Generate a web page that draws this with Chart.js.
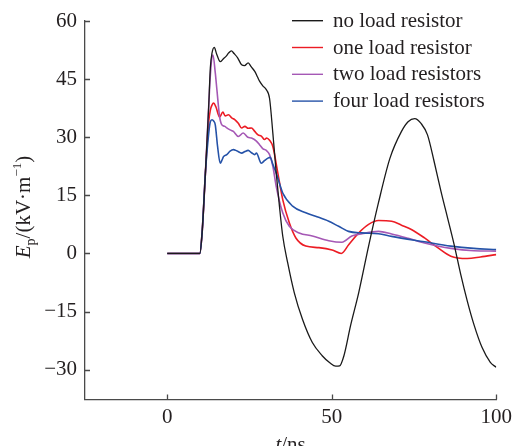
<!DOCTYPE html>
<html>
<head>
<meta charset="utf-8">
<script src="https://cdn.jsdelivr.net/npm/chart.js@4.4.1/dist/chart.umd.min.js"></script>
<style>
    html, body { margin: 0; padding: 0; background: #fff; }
    canvas { display: block; }
</style>
</head>
<body>
<canvas id="fieldChart" width="517" height="446"></canvas>
<script>
// series labels (legend order)
const seriesLabels = ['no load resistor', 'one load resistor', 'two load resistors', 'four load resistors'];

// no load resistor: time (ns) and field (kV/m)
const noLoadT = [0, 9.9, 10.6, 11.6, 12.6, 13.1, 13.6, 14.3, 15.0, 16.1, 17.0, 18.0, 18.6, 19.5, 20.3, 21.4, 22.6, 23.5, 24.6, 25.5,
    26.6, 27.4, 28.1, 29.1, 30.1, 31.1, 32.1, 33.1, 34.1, 35.1, 36.6, 38.6, 41.1, 44.1, 47.1, 49.5, 51.2, 52.4, 53.7, 55.7, 58.2,
    61.2, 64.2, 67.7, 71.2, 73.2, 75.2, 77.2, 79.1, 81.1, 83.2, 85.2, 87.2, 89.2, 91.2, 93.2, 95.7, 98.2, 100];
const noLoadE = [0, 0, 5.4, 20.8, 38, 48, 51.7, 53.2, 51.5, 49.5, 50.2, 51, 51.7, 52.3, 51.6, 50.5, 48.7, 48.5, 49.2, 48.2,
    47, 45.6, 44.4, 43.2, 42.3, 40, 31, 21, 12.2, 4.5, -2.4, -10.1, -17, -23, -26.4, -28.3, -29.1, -29, -26.4, -18.7, -10.1,
    1.9, 13.1, 24.6, 31.5, 34, 34.8, 33.5, 30.6, 23.8, 16, 9.2, 2.3, -5.4, -12.3, -18.3, -24.3, -28.1, -29.4];

// one load resistor
const oneLoadT = [0, 9.9, 10.6, 11.6, 12.6, 13.1, 13.6, 14.1, 14.8, 15.9, 16.9, 17.6, 18.6, 19.6, 20.6, 21.6, 22.6, 23.6, 24.6, 25.6,
    26.6, 27.6, 28.6, 29.6, 30.2, 31.1, 32.1, 33.6, 35.1, 37.1, 39.1, 42.1, 46.1, 50.1, 52.9, 55.2, 58.2, 61.2, 64.2, 68.2,
    71.2, 74.2, 78.2, 82.2, 86.2, 91.2, 95.2, 100];
const oneLoadE = [0, 0, 5.4, 20.8, 34, 37, 38.3, 38.8, 37.8, 35.2, 36.5, 35.5, 35.8, 35, 34.5, 33.6, 32.4, 32.8, 32.3, 32.4,
    31.5, 30.6, 30.3, 29.4, 29.8, 29.2, 27.6, 20.8, 13.9, 7.9, 4.0, 1.9, 1.5, 0.9, 0, 2.3, 5.3, 7.5, 8.5, 8.3,
    7.3, 6.2, 4.0, 1.5, -0.7, -1.3, -0.9, -0.3];

// two load resistors
const twoLoadT = [0, 9.9, 10.6, 11.6, 12.6, 13.1, 13.6, 13.9, 14.6, 15.1, 15.9, 16.6, 17.5, 18.1, 19.1, 20.1, 21.6, 23.1, 24.5, 25.6,
    27.1, 28.1, 29.1, 30.1, 31.1, 32.1, 33.1, 35.1, 37.1, 40.1, 44.1, 49.1, 53.1, 56.1, 59.2, 64.2, 68.2, 73.2, 78.2, 86.2,
    93.2, 100];
const twoLoadE = [0, 0, 5.4, 20.8, 38, 46, 50.8, 51.2, 46.6, 42.2, 35.4, 33.2, 32.8, 32.4, 31.9, 31.5, 30.2, 31.1, 30, 29.8,
    29, 28, 27, 26.6, 25.5, 22.5, 17.4, 10.5, 7.0, 5.3, 4.5, 3.3, 2.9, 4.5, 5.1, 5.7, 5.0, 3.9, 2.7, 1.3,
    0.7, 0.6];

// four load resistors
const fourLoadT = [0, 9.9, 10.6, 11.6, 12.6, 13.1, 13.6, 14.1, 14.6, 15.3, 16.1, 16.6, 17.1, 18.1, 19.1, 20.1, 21.1, 22.6, 23.6, 24.6,
    25.6, 26.6, 27.1, 28.6, 29.6, 30.6, 31.3, 32.1, 33.1, 35.1, 38.1, 42.1, 45.1, 49.1, 52.1, 55.1, 59.2, 64.2, 68.2, 78.2,
    86.2, 93.2, 100];
const fourLoadE = [0, 0, 5.4, 20.8, 31, 34, 34.5, 34.2, 33.2, 27.6, 23.3, 24, 25, 25.5, 26.4, 26.8, 26.5, 25.9, 26.3, 26.6,
    26, 25.5, 25.9, 23.3, 24, 24.6, 24.8, 23, 20.8, 15.6, 12.2, 10.5, 9.6, 8.3, 7.0, 5.7, 5.3, 5.1, 4.4, 3.0,
    1.9, 1.3, 1.0];

// axis ticks
const xTicks = [0, 50, 100];
const yTicks = [-30, -15, 0, 15, 30, 45, 60];

const serif = "'Liberation Serif', 'Times New Roman', serif";
const axisColor = '#4a4a4a';
const textColor = '#231f20';
const lineColors = ['#1a1a1a', '#ec1c24', '#a558b5', '#2552a8'];

function toPoints(ts, es) {
    return ts.map((t, i) => ({ x: t, y: es[i] }));
}

// inward tick marks on left and bottom axes
const inwardTicks = {
    id: 'inwardTicks',
    afterDraw(chart) {
        const { ctx, chartArea, scales } = chart;
        ctx.save();
        ctx.strokeStyle = axisColor;
        ctx.lineWidth = 1.3;
        ctx.beginPath();
        scales.y.ticks.forEach(t => {
            const py = Math.round(scales.y.getPixelForValue(t.value)) + 0.5;
            ctx.moveTo(chartArea.left, py);
            ctx.lineTo(chartArea.left + 5, py);
        });
        scales.x.ticks.forEach(t => {
            const px = Math.round(scales.x.getPixelForValue(t.value)) + 0.5;
            ctx.moveTo(px, chartArea.bottom);
            ctx.lineTo(px, chartArea.bottom - 5);
        });
        ctx.stroke();
        ctx.restore();
    }
};

// draw text made of pieces (italic, sub/superscripts), centred on 0
function drawPieces(ctx, pieces) {
    let total = 0;
    pieces.forEach(p => { ctx.font = p.font; total += ctx.measureText(p.text).width; });
    let pos = -total / 2;
    pieces.forEach(p => {
        ctx.font = p.font;
        ctx.fillText(p.text, pos, p.dy || 0);
        pos += ctx.measureText(p.text).width;
    });
}

// axis titles
const axisTitles = {
    id: 'axisTitles',
    afterDraw(chart) {
        const { ctx, chartArea } = chart;
        ctx.save();
        ctx.fillStyle = textColor;
        ctx.textBaseline = 'alphabetic';
        ctx.textAlign = 'left';

        // y title, rotated
        ctx.save();
        ctx.translate(29.5, 207);
        ctx.rotate(-Math.PI / 2);
        drawPieces(ctx, [
            { text: 'E', font: 'italic 21px ' + serif },
            { text: 'p', font: '14px ' + serif, dy: 5 },
            { text: '/(kV\u00b7m', font: '21px ' + serif },
            { text: '\u22121', font: '13px ' + serif, dy: -9 },
            { text: ')', font: '21px ' + serif }
        ]);
        ctx.restore();

        // x title
        ctx.save();
        ctx.translate((chartArea.left + chartArea.right) / 2, 451);
        drawPieces(ctx, [
            { text: 't', font: 'italic 21px ' + serif },
            { text: '/ns', font: '21px ' + serif }
        ]);
        ctx.restore();
        ctx.restore();
    }
};

// legend inside plot, top right
const insideLegend = {
    id: 'insideLegend',
    afterDraw(chart) {
        const { ctx } = chart;
        ctx.save();
        ctx.font = '21px ' + serif;
        ctx.textBaseline = 'alphabetic';
        chart.data.datasets.forEach((ds, i) => {
            const rowY = 20.7 + i * 26.8;
            ctx.strokeStyle = ds.borderColor;
            ctx.lineWidth = 1.4;
            ctx.beginPath();
            ctx.moveTo(292, rowY);
            ctx.lineTo(323, rowY);
            ctx.stroke();
            ctx.fillStyle = textColor;
            ctx.fillText(ds.label, 333, rowY + 6);
        });
        ctx.restore();
    }
};

const allT = [noLoadT, oneLoadT, twoLoadT, fourLoadT];
const allE = [noLoadE, oneLoadE, twoLoadE, fourLoadE];

const ctx = document.getElementById('fieldChart').getContext('2d');
new Chart(ctx, {
    type: 'line',
    data: {
        datasets: seriesLabels.map((label, i) => ({
            label: label,
            data: toPoints(allT[i], allE[i]),
            borderColor: lineColors[i],
            borderWidth: i === 0 ? 1.3 : 1.6,
            pointRadius: 0,
            fill: false,
            cubicInterpolationMode: 'monotone',
            order: i === 0 ? 0 : 4 - i
        }))
    },
    options: {
        responsive: false,
        devicePixelRatio: 1,
        animation: false,
        layout: { padding: { left: 0, right: 16, top: 21, bottom: 0 } },
        plugins: {
            legend: { display: false },
            tooltip: { enabled: false }
        },
        scales: {
            x: {
                type: 'linear',
                min: -25,
                max: 100,
                grid: { display: false, drawTicks: false },
                border: { display: true, color: axisColor, width: 1.3 },
                afterBuildTicks: scale => { scale.ticks = xTicks.map(v => ({ value: v })); },
                afterFit: scale => { scale.height = 46.5; },
                ticks: {
                    padding: 5,
                    color: textColor,
                    font: { family: serif, size: 21 },
                    maxRotation: 0
                }
            },
            y: {
                type: 'linear',
                min: -37.7,
                max: 60,
                grid: { display: false, drawTicks: false },
                border: { display: true, color: axisColor, width: 1.3 },
                afterBuildTicks: scale => { scale.ticks = yTicks.map(v => ({ value: v })); },
                afterFit: scale => { scale.width = 85; },
                ticks: {
                    padding: 8,
                    color: textColor,
                    font: { family: serif, size: 21 },
                    callback: v => v < 0 ? '\u2212' + Math.abs(v) : String(v)
                }
            }
        }
    },
    plugins: [inwardTicks, axisTitles, insideLegend]
});
</script>
</body>
</html>
